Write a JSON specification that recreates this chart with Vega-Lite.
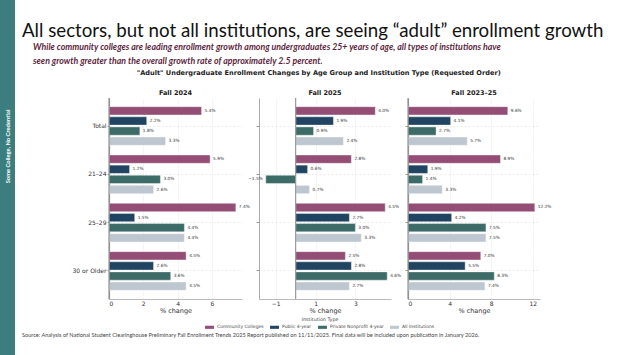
{
  "$schema": "https://vega.github.io/schema/vega-lite/v6.json",
  "background": "white",
  "padding": 0,
  "spacing": 7,
  "config": {
    "view": {"stroke": null},
    "font": "DejaVu Sans",
    "legend": {
      "orient": "none", "legendX": 183, "legendY": 219, "direction": "horizontal", "titleAnchor": "middle", "titleOrient": "top",
      "titleFontSize": 4.8, "titleFontWeight": "normal", "titleColor": "#444", "titleFont": "DejaVu Sans", "titlePadding": 1,
      "labelFontSize": 4.5, "labelColor": "#444", "labelFont": "DejaVu Sans",
      "symbolType": "M-1,-0.35H1V0.35H-1Z", "symbolSize": 80, "symbolStrokeWidth": 0,
      "gridAlign": "none", "columnPadding": 6, "labelOffset": 3
    },
    "axis": {"labelColor": "#333", "titleColor": "#333", "labelFont": "DejaVu Sans", "titleFont": "DejaVu Sans"}
  },
  "datasets": {
    "bars": [
      {"period": "Fall 2024", "age": "Total", "type": "Community Colleges", "value": 5.4},
      {"period": "Fall 2024", "age": "Total", "type": "Public 4-year", "value": 2.2},
      {"period": "Fall 2024", "age": "Total", "type": "Private Nonprofit 4-year", "value": 1.8},
      {"period": "Fall 2024", "age": "Total", "type": "All Institutions", "value": 3.3},
      {"period": "Fall 2024", "age": "21–24", "type": "Community Colleges", "value": 5.9},
      {"period": "Fall 2024", "age": "21–24", "type": "Public 4-year", "value": 1.2},
      {"period": "Fall 2024", "age": "21–24", "type": "Private Nonprofit 4-year", "value": 3.0},
      {"period": "Fall 2024", "age": "21–24", "type": "All Institutions", "value": 2.6},
      {"period": "Fall 2024", "age": "25–29", "type": "Community Colleges", "value": 7.4},
      {"period": "Fall 2024", "age": "25–29", "type": "Public 4-year", "value": 1.5},
      {"period": "Fall 2024", "age": "25–29", "type": "Private Nonprofit 4-year", "value": 4.4},
      {"period": "Fall 2024", "age": "25–29", "type": "All Institutions", "value": 4.4},
      {"period": "Fall 2024", "age": "30 or Older", "type": "Community Colleges", "value": 4.5},
      {"period": "Fall 2024", "age": "30 or Older", "type": "Public 4-year", "value": 2.6},
      {"period": "Fall 2024", "age": "30 or Older", "type": "Private Nonprofit 4-year", "value": 3.6},
      {"period": "Fall 2024", "age": "30 or Older", "type": "All Institutions", "value": 4.5},
      {"period": "Fall 2025", "age": "Total", "type": "Community Colleges", "value": 4.0},
      {"period": "Fall 2025", "age": "Total", "type": "Public 4-year", "value": 1.9},
      {"period": "Fall 2025", "age": "Total", "type": "Private Nonprofit 4-year", "value": 0.9},
      {"period": "Fall 2025", "age": "Total", "type": "All Institutions", "value": 2.4},
      {"period": "Fall 2025", "age": "21–24", "type": "Community Colleges", "value": 2.8},
      {"period": "Fall 2025", "age": "21–24", "type": "Public 4-year", "value": 0.6},
      {"period": "Fall 2025", "age": "21–24", "type": "Private Nonprofit 4-year", "value": -1.5},
      {"period": "Fall 2025", "age": "21–24", "type": "All Institutions", "value": 0.7},
      {"period": "Fall 2025", "age": "25–29", "type": "Community Colleges", "value": 4.5},
      {"period": "Fall 2025", "age": "25–29", "type": "Public 4-year", "value": 2.7},
      {"period": "Fall 2025", "age": "25–29", "type": "Private Nonprofit 4-year", "value": 3.0},
      {"period": "Fall 2025", "age": "25–29", "type": "All Institutions", "value": 3.3},
      {"period": "Fall 2025", "age": "30 or Older", "type": "Community Colleges", "value": 2.5},
      {"period": "Fall 2025", "age": "30 or Older", "type": "Public 4-year", "value": 2.8},
      {"period": "Fall 2025", "age": "30 or Older", "type": "Private Nonprofit 4-year", "value": 4.6},
      {"period": "Fall 2025", "age": "30 or Older", "type": "All Institutions", "value": 2.7},
      {"period": "Fall 2023–25", "age": "Total", "type": "Community Colleges", "value": 9.6},
      {"period": "Fall 2023–25", "age": "Total", "type": "Public 4-year", "value": 4.1},
      {"period": "Fall 2023–25", "age": "Total", "type": "Private Nonprofit 4-year", "value": 2.7},
      {"period": "Fall 2023–25", "age": "Total", "type": "All Institutions", "value": 5.7},
      {"period": "Fall 2023–25", "age": "21–24", "type": "Community Colleges", "value": 8.9},
      {"period": "Fall 2023–25", "age": "21–24", "type": "Public 4-year", "value": 1.9},
      {"period": "Fall 2023–25", "age": "21–24", "type": "Private Nonprofit 4-year", "value": 1.4},
      {"period": "Fall 2023–25", "age": "21–24", "type": "All Institutions", "value": 3.3},
      {"period": "Fall 2023–25", "age": "25–29", "type": "Community Colleges", "value": 12.2},
      {"period": "Fall 2023–25", "age": "25–29", "type": "Public 4-year", "value": 4.2},
      {"period": "Fall 2023–25", "age": "25–29", "type": "Private Nonprofit 4-year", "value": 7.5},
      {"period": "Fall 2023–25", "age": "25–29", "type": "All Institutions", "value": 7.5},
      {"period": "Fall 2023–25", "age": "30 or Older", "type": "Community Colleges", "value": 7.0},
      {"period": "Fall 2023–25", "age": "30 or Older", "type": "Public 4-year", "value": 5.5},
      {"period": "Fall 2023–25", "age": "30 or Older", "type": "Private Nonprofit 4-year", "value": 8.3},
      {"period": "Fall 2023–25", "age": "30 or Older", "type": "All Institutions", "value": 7.4}
    ]
  },
  "resolve": {"scale": {"color": "independent"}, "legend": {"color": "independent"}},
  "hconcat": [
    {
      "width": 15, "height": 355,
      "data": {"values": [{"label": "Some College, No Credential"}]},
      "mark": {"type": "text", "angle": 270, "color": "white", "fontSize": 5.8, "fontWeight": "bold", "font": "Lato", "baseline": "middle", "align": "center", "dx": 31},
      "encoding": {"text": {"field": "label"}},
      "view": {"fill": "#3c7d7f", "stroke": null}
    },
    {
      "spacing": 0,
      "resolve": {"scale": {"color": "independent"}, "legend": {"color": "independent"}},
      "vconcat": [
        {
          "width": 580, "height": 1,
          "data": {"values": []},
          "mark": {"type": "point", "opacity": 0},
          "title": {"text": "All sectors, but not all institutions, are seeing “adult” enrollment growth", "orient": "bottom", "anchor": "start", "font": "Lato", "fontSize": 18.7, "fontWeight": "normal", "color": "#111", "offset": 20.5}
        },
        {
          "width": 580, "height": 29,
          "data": {"values": []},
          "mark": {"type": "point", "opacity": 0},
          "title": {"text": ["While community colleges are leading enrollment growth among undergraduates 25+ years of age, all types of institutions have", "seen growth greater than the overall growth rate of approximately 2.5 percent."], "orient": "bottom", "anchor": "start", "font": "Lato", "fontSize": 8.8, "fontStyle": "italic", "fontWeight": "bold", "color": "#5e1f40", "lineHeight": 14, "dx": 11, "offset": -27.5}
        },
        {
          "title": {"text": "\"Adult\" Undergraduate Enrollment Changes by Age Group and Institution Type (Requested Order)", "anchor": "middle", "font": "DejaVu Sans", "fontSize": 6.6, "fontWeight": "bold", "color": "#222", "offset": 13, "dx": 32},
          "bounds": "flush",
          "spacing": 17,
          "hconcat": [
            {
              "width": 70, "height": 201,
              "data": {"values": []},
              "mark": {"type": "point", "opacity": 0}
            },
            {
              "width": 133, "height": 201,
              "title": {"text": "Fall 2024", "fontSize": 6.5, "fontWeight": "bold", "color": "#222", "offset": 1},
              "data": {"name": "bars"},
              "transform": [{"filter": "datum.period === 'Fall 2024'"}],
              "layer": [
                {
                  "mark": {"type": "bar", "opacity": 0.92, "stroke": "#ffffff", "strokeOpacity": 0.5, "strokeWidth": 0.8},
                  "encoding": {
                    "x": {"field": "value", "type": "quantitative", "scale": {"domain": [0, 7.76], "nice": false, "zero": false}, "axis": {"values": [0,1,2,3,4,5,6,7], "title": "% change", "titleFontSize": 6.5, "titleFontWeight": "normal", "titlePadding": 1, "labelFontSize": 6, "ticks": false, "labelPadding": 1, "domainColor": "#bbb", "gridColor": "#ebebeb", "gridDash": [2, 1], "gridWidth": 0.7}},
                    "y": {"field": "age", "type": "nominal", "sort": ["Total", "21–24", "25–29", "30 or Older"], "scale": {"paddingInner": 0.2, "paddingOuter": 0.18}, "axis": {"title": null, "labelFontSize": 6, "tickSize": 2, "labelPadding": 1, "tickColor": "#999", "domainColor": "#888", "domainWidth": 1.2, "grid": true, "gridColor": "#e5e5e5", "gridDash": [2, 2], "gridWidth": 0.7}},
                    "yOffset": {"field": "type", "sort": ["Community Colleges", "Public 4-year", "Private Nonprofit 4-year", "All Institutions"], "scale": {"paddingInner": 0.18}},
                    "color": {"field": "type", "type": "nominal", "title": "Institution Type", "scale": {"domain": ["Community Colleges", "Public 4-year", "Private Nonprofit 4-year", "All Institutions"], "range": ["#8b3f6b", "#0f3556", "#2d5f5c", "#b9c3cd"]}}
                  }
                },
                {
                  "mark": {"type": "text", "fontSize": 4.3, "color": "#333", "baseline": "middle", "align": {"expr": "datum.value < 0 ? 'right' : 'left'"}, "dx": {"expr": "datum.value < 0 ? -3 : 3"}, "text": {"expr": "format(datum.value, '.1f') + '%'"}},
                  "encoding": {
                    "x": {"field": "value", "type": "quantitative"},
                    "y": {"field": "age", "type": "nominal", "sort": ["Total", "21–24", "25–29", "30 or Older"]},
                    "yOffset": {"field": "type", "sort": ["Community Colleges", "Public 4-year", "Private Nonprofit 4-year", "All Institutions"]}
                  }
                },
                {
                  "data": {"values": [{"z": 0}]},
                  "mark": {"type": "rule", "color": "#999", "strokeWidth": 1.2},
                  "encoding": {"x": {"field": "z", "type": "quantitative"}}
                }
              ]
            },
            {
              "width": 132, "height": 201,
              "title": {"text": "Fall 2025", "fontSize": 6.5, "fontWeight": "bold", "color": "#222", "offset": 1},
              "data": {"name": "bars"},
              "transform": [{"filter": "datum.period === 'Fall 2025'"}],
              "layer": [
                {
                  "mark": {"type": "bar", "opacity": 0.92, "stroke": "#ffffff", "strokeOpacity": 0.5, "strokeWidth": 0.8},
                  "encoding": {
                    "x": {"field": "value", "type": "quantitative", "scale": {"domain": [-1.84, 4.79], "nice": false, "zero": false}, "axis": {"values": [-1,0,1,2,3,4], "title": "% change", "titleFontSize": 6.5, "titleFontWeight": "normal", "titlePadding": 1, "labelFontSize": 6, "ticks": false, "labelPadding": 1, "domainColor": "#bbb", "gridColor": "#ebebeb", "gridDash": [2, 1], "gridWidth": 0.7}},
                    "y": {"field": "age", "type": "nominal", "sort": ["Total", "21–24", "25–29", "30 or Older"], "scale": {"paddingInner": 0.2, "paddingOuter": 0.18}, "axis": {"title": null, "labels": false, "tickSize": 3, "tickColor": "#999", "domainColor": "#aaa", "grid": true, "gridColor": "#e5e5e5", "gridDash": [2, 2], "gridWidth": 0.7}},
                    "yOffset": {"field": "type", "sort": ["Community Colleges", "Public 4-year", "Private Nonprofit 4-year", "All Institutions"], "scale": {"paddingInner": 0.18}},
                    "color": {"field": "type", "type": "nominal", "title": "Institution Type", "scale": {"domain": ["Community Colleges", "Public 4-year", "Private Nonprofit 4-year", "All Institutions"], "range": ["#8b3f6b", "#0f3556", "#2d5f5c", "#b9c3cd"]}}
                  }
                },
                {
                  "mark": {"type": "text", "fontSize": 4.3, "color": "#333", "baseline": "middle", "align": {"expr": "datum.value < 0 ? 'right' : 'left'"}, "dx": {"expr": "datum.value < 0 ? -3 : 3"}, "text": {"expr": "format(datum.value, '.1f') + '%'"}},
                  "encoding": {
                    "x": {"field": "value", "type": "quantitative"},
                    "y": {"field": "age", "type": "nominal", "sort": ["Total", "21–24", "25–29", "30 or Older"]},
                    "yOffset": {"field": "type", "sort": ["Community Colleges", "Public 4-year", "Private Nonprofit 4-year", "All Institutions"]}
                  }
                },
                {
                  "data": {"values": [{"z": 0}]},
                  "mark": {"type": "rule", "color": "#999", "strokeWidth": 1.2},
                  "encoding": {"x": {"field": "z", "type": "quantitative"}}
                }
              ]
            },
            {
              "width": 132, "height": 201,
              "title": {"text": "Fall 2023–25", "fontSize": 6.5, "fontWeight": "bold", "color": "#222", "offset": 1},
              "data": {"name": "bars"},
              "transform": [{"filter": "datum.period === 'Fall 2023–25'"}],
              "layer": [
                {
                  "mark": {"type": "bar", "opacity": 0.92, "stroke": "#ffffff", "strokeOpacity": 0.5, "strokeWidth": 0.8},
                  "encoding": {
                    "x": {"field": "value", "type": "quantitative", "scale": {"domain": [0, 12.7], "nice": false, "zero": false}, "axis": {"values": [0,2,4,6,8,10,12], "title": "% change", "titleFontSize": 6.5, "titleFontWeight": "normal", "titlePadding": 1, "labelFontSize": 6, "ticks": false, "labelPadding": 1, "domainColor": "#bbb", "gridColor": "#ebebeb", "gridDash": [2, 1], "gridWidth": 0.7}},
                    "y": {"field": "age", "type": "nominal", "sort": ["Total", "21–24", "25–29", "30 or Older"], "scale": {"paddingInner": 0.2, "paddingOuter": 0.18}, "axis": {"title": null, "labels": false, "tickSize": 3, "tickColor": "#999", "domainColor": "#888", "domainWidth": 1.2, "grid": true, "gridColor": "#e5e5e5", "gridDash": [2, 2], "gridWidth": 0.7}},
                    "yOffset": {"field": "type", "sort": ["Community Colleges", "Public 4-year", "Private Nonprofit 4-year", "All Institutions"], "scale": {"paddingInner": 0.18}},
                    "color": {"field": "type", "type": "nominal", "title": "Institution Type", "scale": {"domain": ["Community Colleges", "Public 4-year", "Private Nonprofit 4-year", "All Institutions"], "range": ["#8b3f6b", "#0f3556", "#2d5f5c", "#b9c3cd"]}}
                  }
                },
                {
                  "mark": {"type": "text", "fontSize": 4.3, "color": "#333", "baseline": "middle", "align": {"expr": "datum.value < 0 ? 'right' : 'left'"}, "dx": {"expr": "datum.value < 0 ? -3 : 3"}, "text": {"expr": "format(datum.value, '.1f') + '%'"}},
                  "encoding": {
                    "x": {"field": "value", "type": "quantitative"},
                    "y": {"field": "age", "type": "nominal", "sort": ["Total", "21–24", "25–29", "30 or Older"]},
                    "yOffset": {"field": "type", "sort": ["Community Colleges", "Public 4-year", "Private Nonprofit 4-year", "All Institutions"]}
                  }
                },
                {
                  "data": {"values": [{"z": 0}]},
                  "mark": {"type": "rule", "color": "#999", "strokeWidth": 1.2},
                  "encoding": {"x": {"field": "z", "type": "quantitative"}}
                }
              ]
            }
          ]
        },
        {
          "width": 580, "height": 1,
          "data": {"values": []},
          "mark": {"type": "point", "opacity": 0},
          "title": {"text": "Source: Analysis of National Student Clearinghouse Preliminary Fall Enrollment Trends 2025 Report published on 11/11/2025. Final data will be included upon publication in January 2026.", "orient": "bottom", "anchor": "start", "font": "Lato", "fontSize": 5.6, "fontWeight": "normal", "color": "#444", "offset": 3}
        }
      ]
    }
  ]
}
